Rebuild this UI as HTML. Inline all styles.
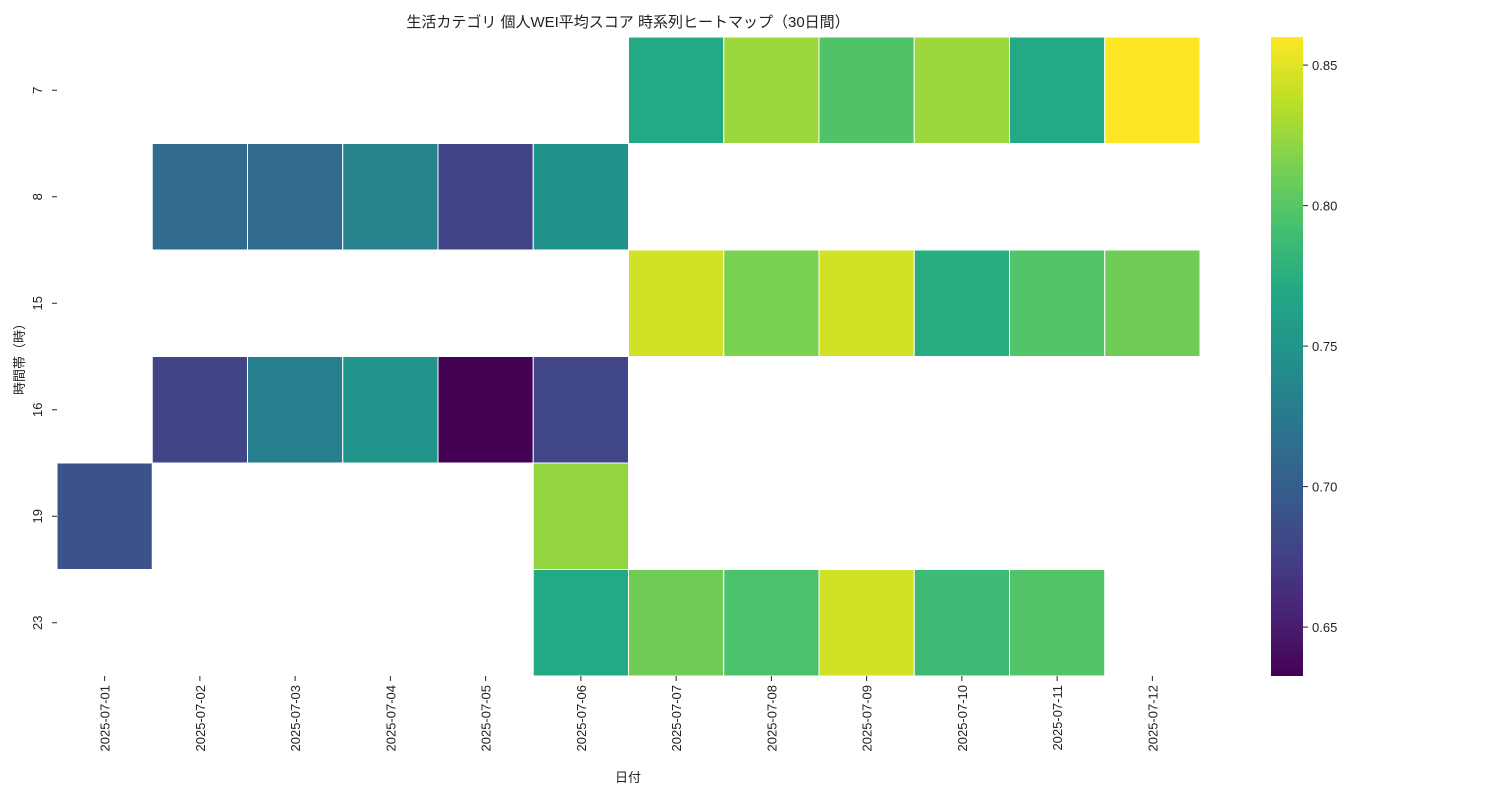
<!DOCTYPE html>
<html><head><meta charset="utf-8"><style>
body{margin:0;background:#fff;font-family:"Liberation Sans","Noto Sans CJK JP",sans-serif;}
svg text{font-family:"Liberation Sans","Noto Sans CJK JP",sans-serif;fill:#222;}
</style></head><body>
<svg id="chart" width="1500" height="800" xmlns="http://www.w3.org/2000/svg">
<defs><linearGradient id="cbg" x1="0" y1="1" x2="0" y2="0"></linearGradient></defs>
<text x="628" y="27" text-anchor="middle" font-size="15">生活カテゴリ 個人WEI平均スコア 時系列ヒートマップ（30日間）</text>
<g id="cells"></g><g id="xt"></g><g id="yt"></g><g id="cb"></g>
<text x="628" y="782" text-anchor="middle" font-size="13">日付</text>
<text transform="translate(24,356) rotate(-90)" text-anchor="middle" font-size="13">時間帯（時）</text>
</svg>
<script>
const dates=["2025-07-01","2025-07-02","2025-07-03","2025-07-04","2025-07-05","2025-07-06","2025-07-07","2025-07-08","2025-07-09","2025-07-10","2025-07-11","2025-07-12"];
const hours=["7","8","15","16","19","23"];
const row7=[null,null,null,null,null,null,0.770,0.826,0.797,0.826,0.770,0.860];
const row8=[null,0.712,0.712,0.733,0.678,0.748,null,null,null,null,null,null];
const row15=[null,null,null,null,null,null,0.844,0.815,0.844,0.773,0.798,0.810];
const row16=[null,0.678,0.730,0.750,0.633,0.680,null,null,null,null,null,null];
const row19=[0.690,null,null,null,null,0.823,null,null,null,null,null,null];
const row23=[null,null,null,null,null,0.770,0.810,0.795,0.844,0.787,0.798,null];
const cbTicks=[0.65,0.70,0.75,0.80,0.85];
const vmin=0.6326,vmax=0.860;
const rows=[row7,row8,row15,row16,row19,row23];
const VIR=["#440154","#482475","#414487","#355f8d","#2a788e","#21918c","#22a884","#44bf70","#7ad151","#bddf26","#fde725"];
function hx(h){return [1,3,5].map(i=>parseInt(h.substr(i,2),16));}
function viridis(t){t=Math.max(0,Math.min(1,t));const p=t*10,i=Math.min(9,Math.floor(p)),f=p-i;const a=hx(VIR[i]),b=hx(VIR[i+1]);return "rgb("+a.map((v,k)=>Math.round(v+(b[k]-v)*f)).join(",")+")";}
const X0=57,X1=1200,Y0=37,Y1=676;
const cw=(X1-X0)/dates.length,ch=(Y1-Y0)/hours.length;
const xS=i=>X0+i*cw,yS=j=>Y0+j*ch;
const ns="http://www.w3.org/2000/svg";
function mk(t,a,p){const e=document.createElementNS(ns,t);for(const k in a)e.setAttribute(k,a[k]);p.appendChild(e);return e;}
const cells=document.getElementById("cells");
rows.forEach((r,j)=>r.forEach((v,i)=>{if(v==null)return;
const e=mk("rect",{x:xS(i),y:yS(j),width:cw,height:ch,fill:viridis((v-vmin)/(vmax-vmin)),stroke:"#fff","stroke-width":1},cells);

}));
const xt=document.getElementById("xt");
dates.forEach((d,i)=>{const cx=xS(i)+cw/2;
mk("line",{x1:cx,x2:cx,y1:Y1,y2:Y1+5,stroke:"#222"},xt);
const t=mk("text",{transform:`translate(${cx+5},${Y1+9}) rotate(-90)`,"text-anchor":"end","font-size":13},xt);t.textContent=d;

});
const yt=document.getElementById("yt");
hours.forEach((h,j)=>{const cy=yS(j)+ch/2;
mk("line",{x1:X0-5,x2:X0,y1:cy,y2:cy,stroke:"#222"},yt);
const t=mk("text",{transform:`translate(${X0-15},${cy}) rotate(-90)`,"text-anchor":"middle","font-size":13},yt);t.textContent=h;

});
const g=document.getElementById("cbg");
VIR.forEach((c,i)=>mk("stop",{offset:(i/10),"stop-color":c},g));
const cb=document.getElementById("cb");
const cbx=1271,cbw=32,cy=v=>Y1-(v-vmin)/(vmax-vmin)*(Y1-Y0);
const bar=mk("rect",{x:cbx,y:Y0,width:cbw,height:Y1-Y0,fill:"url(#cbg)"},cb);


cbTicks.forEach(v=>{const y=cy(v);
mk("line",{x1:cbx+cbw,x2:cbx+cbw+5,y1:y,y2:y,stroke:"#222"},cb);
const t=mk("text",{x:cbx+cbw+9,y:y+5,"font-size":13},cb);t.textContent=v.toFixed(2);

});
</script>
</body></html>
